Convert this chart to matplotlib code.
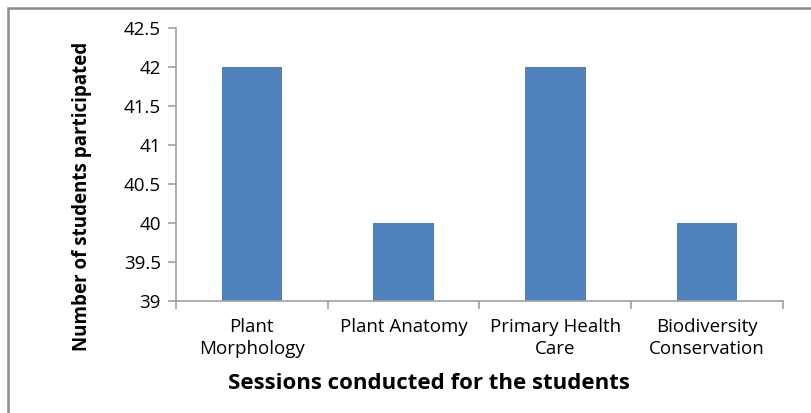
import matplotlib.pyplot as plt
from matplotlib.patches import Rectangle
from matplotlib.ticker import FixedLocator, NullFormatter

sessions = ['Plant\nMorphology', 'Plant Anatomy', 'Primary Health\nCare',
            'Biodiversity\nConservation']
students = [42, 40, 42, 40]
yticks = [39, 39.5, 40, 40.5, 41, 41.5, 42, 42.5]

plt.rcParams['font.family'] = ['Open Sans', 'DejaVu Sans']

fig = plt.figure(figsize=(8.12, 4.14), dpi=100)
ax = fig.add_axes([176 / 812, 1 - 301.5 / 414, 607 / 812, 273 / 414])

x = range(len(sessions))
ax.bar(x, students, width=0.4, color='#4F81BD', bottom=0)

ax.set_ylim(39, 42.5)
ax.set_xlim(-0.5, len(sessions) - 0.5)
ax.set_yticks(yticks)
ax.set_yticklabels([f'{v:g}' for v in yticks], fontsize=13.5)

ax.set_xticks(list(x))
ax.set_xticklabels(sessions, fontsize=13.5, linespacing=1.3)
ax.tick_params(axis='x', which='major', length=0, pad=12)
ax.xaxis.set_minor_locator(FixedLocator([i - 0.5 for i in range(len(sessions) + 1)]))
ax.xaxis.set_minor_formatter(NullFormatter())
ax.tick_params(axis='x', which='minor', length=6, color='#a0a0a0', width=1.2)
ax.tick_params(axis='y', length=6, color='#a0a0a0', width=1.2, pad=5)

for s in ['top', 'right']:
    ax.spines[s].set_visible(False)
for s in ['left', 'bottom']:
    ax.spines[s].set_color('#a0a0a0')
    ax.spines[s].set_linewidth(1.2)

ax.set_xlabel('Sessions conducted for the students', fontsize=16,
              fontweight='bold')
ax.xaxis.set_label_coords(0.416, -0.262)
ax.set_ylabel('Number of students participated', fontsize=13.5,
              fontweight='bold')
ax.yaxis.set_label_coords(-0.138, 0.386)

# outer chart border
fig.patches.append(Rectangle((8.5 / 812, -0.1), 1.0, 1 - 8.5 / 414 + 0.1,
                             transform=fig.transFigure, fill=False,
                             edgecolor='#8c8c8c', linewidth=1.8))

fig.savefig('out.png', dpi=100)
